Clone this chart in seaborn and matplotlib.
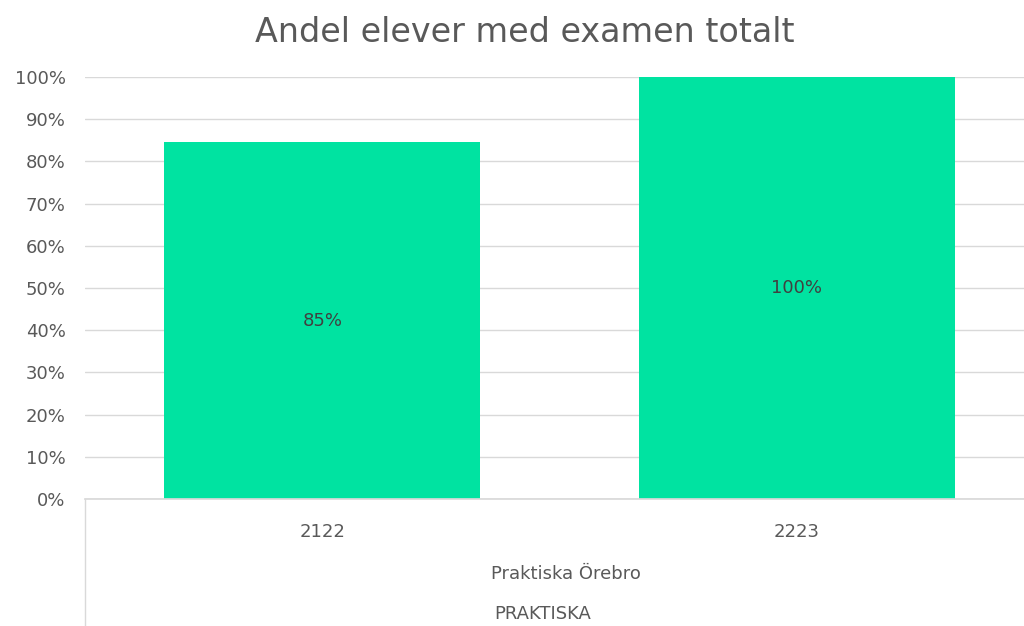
import matplotlib
matplotlib.use("Agg")
import matplotlib.pyplot as plt
import seaborn as sns
import pandas as pd
from matplotlib.lines import Line2D

categories = ["2122", "2223"]
values = [0.845, 1.00]
labels = ["85%", "100%"]
group_label = "Praktiska Örebro"
top_label = "PRAKTISKA"
title = "Andel elever med examen totalt"
yticks = [i / 10 for i in range(11)]
ytick_labels = [f"{i*10}%" for i in range(11)]

sns.set_theme(style="white")
plt.rcParams['font.family'] = ['DejaVu Sans']
TXT = "#595959"
GRID = "#D9D9D9"
BAR = "#00E3A1"

df = pd.DataFrame({"cat": categories, "val": values})

fig = plt.figure(figsize=(10.24, 6.26), dpi=100)
W, H = 1024, 626
left, right, top, bottom = 85, 1034, 77, 499
ax = fig.add_axes([left / W, 1 - bottom / H, (right - left) / W, (bottom - top) / H])

sns.barplot(data=df, x="cat", y="val", color=BAR, width=0.665, ax=ax,
            saturation=1, linewidth=0)

ax.set_ylim(0, 1)
ax.set_yticks(yticks)
ax.set_yticklabels(ytick_labels, color=TXT, fontsize=13)
ax.yaxis.grid(True, color=GRID, linewidth=1)
ax.set_axisbelow(True)
for s in ["top", "right", "left"]:
    ax.spines[s].set_visible(False)
ax.spines["bottom"].set_color(GRID)
ax.tick_params(axis="both", length=0)
ax.tick_params(axis="y", pad=14)
ax.set_xticklabels(categories, color=TXT, fontsize=13)
ax.tick_params(axis="x", pad=17)
ax.set_xlabel("")
ax.set_ylabel("")

for p, lab in zip(ax.patches, labels):
    ax.text(p.get_x() + p.get_width() / 2, p.get_height() / 2, lab,
            ha="center", va="center", color="#404040", fontsize=13)

fig.text(566 / W, 1 - 574 / H, group_label, ha="center", va="center", color=TXT, fontsize=13)
fig.text(543 / W, 1 - 614 / H, top_label, ha="center", va="center", color=TXT, fontsize=13)
fig.add_artist(Line2D([left / W, left / W], [1 - bottom / H, 0], color=GRID, linewidth=1,
                      transform=fig.transFigure))

fig.text(525 / W, 1 - 33 / H, title, ha="center", va="center", color=TXT, fontsize=24)

fig.savefig("out.png", dpi=100)
